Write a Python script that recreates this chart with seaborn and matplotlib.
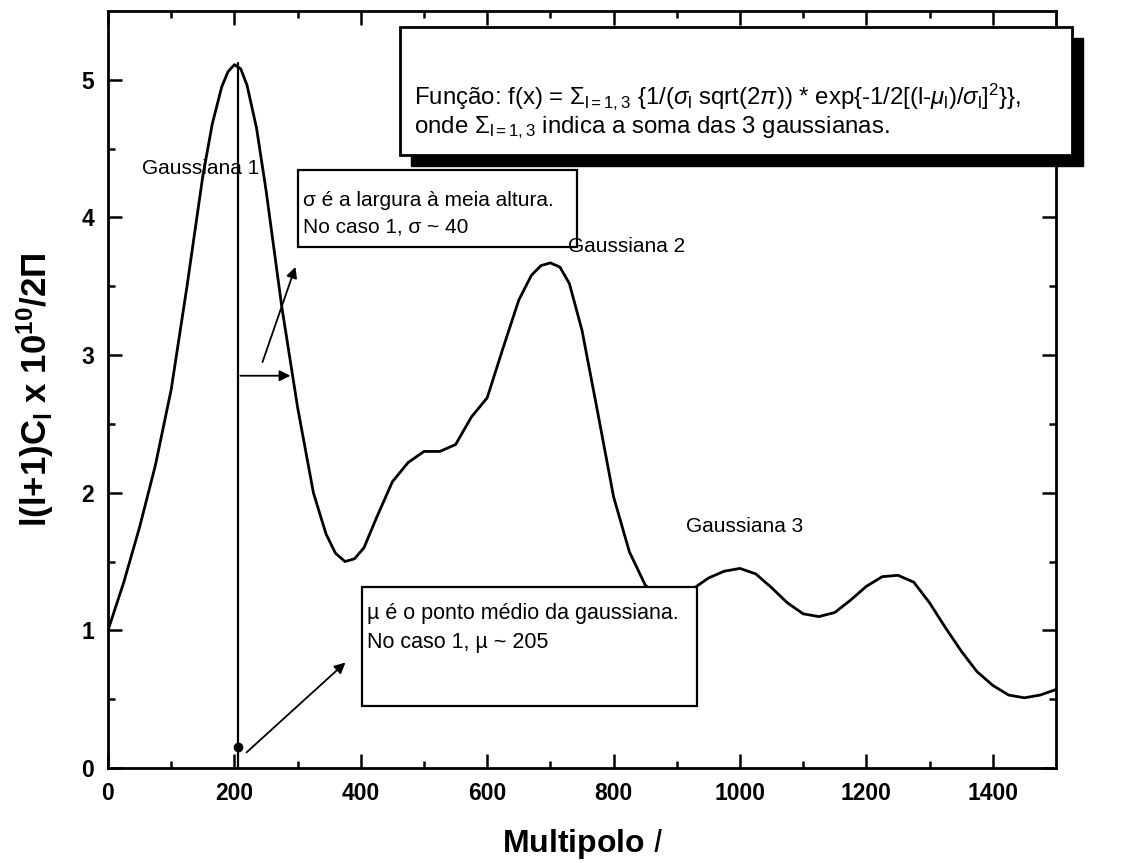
import numpy as np
import pandas as pd
import seaborn as sns
import matplotlib
matplotlib.use("Agg")
import matplotlib.pyplot as plt
from matplotlib.patches import Rectangle

# ---- data ----
multipole = [0, 25, 50, 75, 100, 125, 150, 165, 180, 190, 200, 210, 220, 235, 250,
             275, 300, 325, 345, 360, 375, 390, 405, 425, 450, 475, 500, 525, 550,
             575, 600, 625, 650, 670, 685, 700, 715, 730, 750, 775, 800, 825, 850,
             875, 900, 925, 950, 975, 1000, 1025, 1050, 1075, 1100, 1125, 1150,
             1175, 1200, 1225, 1250, 1275, 1300, 1325, 1350, 1375, 1400, 1425,
             1450, 1475, 1500]
power = [1.00, 1.35, 1.75, 2.20, 2.75, 3.50, 4.30, 4.68, 4.95, 5.06, 5.11, 5.08,
         4.96, 4.65, 4.20, 3.35, 2.62, 2.00, 1.70, 1.56, 1.50, 1.52, 1.60, 1.82,
         2.08, 2.22, 2.30, 2.30, 2.35, 2.55, 2.69, 3.05, 3.40, 3.58, 3.65, 3.67,
         3.64, 3.52, 3.18, 2.58, 1.97, 1.57, 1.33, 1.22, 1.23, 1.30, 1.38, 1.43,
         1.45, 1.41, 1.31, 1.20, 1.12, 1.10, 1.13, 1.22, 1.32, 1.39, 1.40, 1.35,
         1.20, 1.02, 0.85, 0.70, 0.60, 0.53, 0.51, 0.53, 0.57]
xticks = [0, 200, 400, 600, 800, 1000, 1200, 1400]
yticks = [0, 1, 2, 3, 4, 5]
mu1 = 205
peak1 = 5.12
sigma_arrow_y = 2.85
sigma_arrow_end = 293

W, H = 1147, 863
sns.set_theme(style="ticks")
plt.rcParams['font.family'] = ['Liberation Sans', 'DejaVu Sans']
plt.rcParams['mathtext.fontset'] = 'custom'
plt.rcParams['mathtext.rm'] = 'Liberation Sans'
plt.rcParams['mathtext.it'] = 'Liberation Sans:italic'
plt.rcParams['mathtext.bf'] = 'Liberation Sans:bold'
for k in ['text.color', 'axes.labelcolor', 'xtick.color', 'ytick.color', 'axes.edgecolor']:
    plt.rcParams[k] = 'black'

fig = plt.figure(figsize=(W / 100, H / 100), dpi=100)
fig.patch.set_facecolor('white')
ax = fig.add_axes([108 / W, 1 - 768 / H, (1056 - 108) / W, (768 - 11) / H])
ax.set_facecolor('white')

df = pd.DataFrame({'l': multipole, 'C': power})
sns.lineplot(data=df, x='l', y='C', ax=ax, color='black', lw=2.0, zorder=3)

ax.set_xlim(0, 1500)
ax.set_ylim(0, 5.5)
ax.set_xticks(xticks)
ax.set_xticks(np.arange(100, 1500, 200), minor=True)
ax.set_yticks(yticks)
ax.set_yticks(np.arange(0.5, 5.5, 1.0), minor=True)
ax.set_xticklabels([str(t) for t in xticks], fontweight='bold', fontsize=16.5, color='black')
ax.set_yticklabels([str(t) for t in yticks], fontweight='bold', fontsize=16.5, color='black')
ax.tick_params(which='both', direction='in', top=True, right=True, width=1.8, color='black')
ax.tick_params(which='major', length=10, pad=10)
ax.tick_params(which='minor', length=5)
for s in ax.spines.values():
    s.set_visible(True)
    s.set_linewidth(2)
    s.set_color('black')

ax.set_xlabel(r"Multipolo $\mathit{l}$", fontsize=23, fontweight='bold', labelpad=16,
              color='black')
ax.set_ylabel(r"l(l+1)C$_\mathbf{l}$ x 10$^\mathbf{10}$/2$\mathbf{\Pi}$", fontsize=25,
              fontweight='bold', labelpad=18, color='black')

# vertical line at mu and marker
ax.plot([mu1, mu1], [0, peak1], color='black', lw=1.6, zorder=4)
ax.plot([mu1], [0.15], 'o', color='black', ms=6, zorder=5)

arrow = dict(arrowstyle='-|>', color='black', lw=1.3, mutation_scale=16)
# horizontal sigma arrow
ax.annotate('', xy=(sigma_arrow_end, sigma_arrow_y), xytext=(mu1, sigma_arrow_y),
            arrowprops=arrow, zorder=5)
# arrow to sigma box
ax.annotate('', xy=(298, 3.66), xytext=(243, 2.93), arrowprops=arrow, zorder=5)
# arrow to mu box
ax.annotate('', xy=(379, 0.78), xytext=(216, 0.10), arrowprops=arrow, zorder=5)


def fx(x):
    return x / W


def fy(y):
    return 1 - y / H


def box(x0, y0, x1, y1, lw=1.6, shadow=None):
    if shadow:
        fig.patches.append(Rectangle((fx(x0 + shadow), fy(y1 + shadow)),
                                     fx(x1 - x0), (y1 - y0) / H,
                                     transform=fig.transFigure, facecolor='black',
                                     edgecolor='black', zorder=6))
    fig.patches.append(Rectangle((fx(x0), fy(y1)), fx(x1 - x0), (y1 - y0) / H,
                                 transform=fig.transFigure, facecolor='white',
                                 edgecolor='black', lw=lw, zorder=7))


# top formula box with shadow
box(400, 27, 1072, 155, lw=2, shadow=11)
fig.text(fx(414), fy(97),
         r"Função: f(x) = $\Sigma_{\mathrm{l=1,3}}$ {1/($\sigma_\mathrm{l}$ sqrt(2$\pi$)) * exp{-1/2[(l-$\mu_\mathrm{l}$)/$\sigma_\mathrm{l}$]$^2$}},",
         fontsize=17.3, va='center', ha='left', zorder=8, color='black')
fig.text(fx(414), fy(128), r"onde $\Sigma_{\mathrm{l=1,3}}$ indica a soma das 3 gaussianas.",
         fontsize=17.3, va='center', ha='left', zorder=8, color='black')

# sigma box
box(298, 170, 577, 247, lw=1.6)
fig.text(fx(303), fy(200), "σ é a largura à meia altura.", fontsize=15,
         va='center', ha='left', zorder=8, color='black')
fig.text(fx(303), fy(227), "No caso 1, σ ~ 40", fontsize=15,
         va='center', ha='left', zorder=8, color='black')

# mu box
box(362, 587, 697, 706, lw=1.6)
fig.text(fx(367), fy(613), "µ é o ponto médio da gaussiana.", fontsize=15.5,
         va='center', ha='left', zorder=8, color='black')
fig.text(fx(367), fy(642), "No caso 1, µ ~ 205", fontsize=15.5,
         va='center', ha='left', zorder=8, color='black')

# gaussian labels
fig.text(fx(142), fy(168), "Gaussiana 1", fontsize=15, va='center', ha='left', zorder=8,
         color='black')
fig.text(fx(568), fy(247), "Gaussiana 2", fontsize=15, va='center', ha='left', zorder=8,
         color='black')
fig.text(fx(686), fy(527), "Gaussiana 3", fontsize=15, va='center', ha='left', zorder=8,
         color='black')

fig.savefig("out.png", dpi=100, facecolor='white')
